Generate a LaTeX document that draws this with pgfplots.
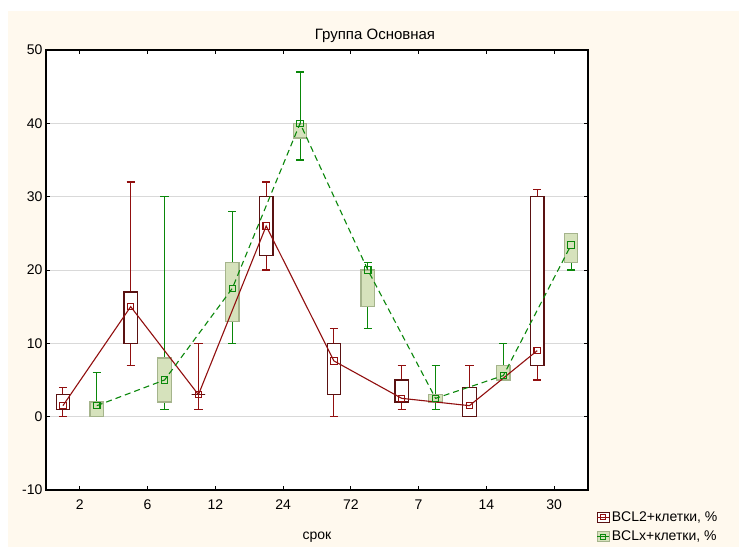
\documentclass[border=0pt]{standalone}
\usepackage{fontspec}
\setmainfont{Liberation Sans}
\usepackage{pgfplots}
\usepackage{pgfplotstable}
\pgfplotsset{compat=1.18}
\usepgfplotslibrary{statistics}

\definecolor{cream}{RGB}{255,249,238}
\definecolor{linered}{RGB}{145,15,15}
\definecolor{boxred}{RGB}{90,18,18}
\definecolor{linegreen}{RGB}{10,135,10}
\definecolor{greenfill}{RGB}{214,226,188}
\definecolor{greendraw}{RGB}{165,180,140}

% medians (connected lines)
\pgfplotstableread{
pos med
0 1.5
1 15
2 3
3 26
4 7.6
5 2.5
6 1.5
7 9
}\redtbl

\pgfplotstableread{
pos med
0 1.5
1 5
2 17.5
3 40
4 20
5 2.5
6 5.6
7 23.4
}\grntbl

\newcommand{\fsz}{\fontsize{14bp}{16bp}\selectfont}
% #1 position, #2 lower whisker, #3 lower quartile, #4 median, #5 upper quartile, #6 upper whisker
\newcommand{\redbox}[6]{%
  \addplot[forget plot, draw=linered, line width=1.1bp,
    boxplot prepared={draw direction=y, draw position=#1-0.25, lower whisker=#2, lower quartile=#3,
      median=#4, upper quartile=#5, upper whisker=#6,
      box extend=0.2, whisker extend=0.12,
      every box/.style={draw=boxred, fill=white, line width=1.3bp},
      draw/median/.code={}}] coordinates {};}
\newcommand{\greenbox}[6]{%
  \addplot[forget plot, draw=linegreen, line width=1.1bp,
    boxplot prepared={draw direction=y, draw position=#1+0.25, lower whisker=#2, lower quartile=#3,
      median=#4, upper quartile=#5, upper whisker=#6,
      box extend=0.2, whisker extend=0.12,
      every box/.style={draw=greendraw, fill=greenfill, line width=1.3bp},
      draw/median/.code={}}] coordinates {};}

\begin{document}
\begin{tikzpicture}
\fill[white] (0,0) rectangle (739bp,547bp);
\fill[cream] (8bp,0) rectangle (739bp,536bp);
\begin{axis}[
  at={(46bp,57bp)}, anchor=south west,
  scale only axis, width=542bp, height=440bp,
  xmin=-0.5, xmax=7.5, ymin=-10, ymax=50,
  xtick={0,1,2,3,4,5,6,7},
  xticklabels={2,6,12,24,72,7,14,30},
  ytick={-10,0,10,20,30,40,50},
  tick align=inside, major tick length=4bp,
  tick style={black, line width=0.8bp},
  ymajorgrids, grid style={black!15, line width=1bp},
  axis line style={black, line width=1.2bp},
  axis background/.style={fill=white},
  /pgf/number format/assume math mode=true,
  tick label style={font=\fsz},
  xticklabel style={yshift=-6bp},
  title={Группа Основная},
  title style={at={(axis description cs:0.607,1)}, yshift=-2bp, font=\fontsize{15bp}{17bp}\selectfont},
  xlabel={срок},
  xlabel style={at={(axis description cs:0.5,0)}, anchor=center, yshift=-47bp, font=\fsz},
  legend style={at={(axis description cs:1.0105,-0.04)}, anchor=north west,
    draw=none, fill=none, font=\fsz, row sep=4bp},
  legend cell align=left,
]
\redbox{0}{0}{1}{1.5}{3}{4}
\redbox{1}{7}{10}{15}{17}{32}
\redbox{2}{1}{3}{3}{3}{10}
\redbox{3}{20}{22}{26}{30}{32}
\redbox{4}{0}{3}{7.6}{10}{12}
\redbox{5}{1}{2}{2.5}{5}{7}
\redbox{6}{0}{0}{1.5}{4}{7}
\redbox{7}{5}{7}{9}{30}{31}
\greenbox{0}{0}{0}{1.5}{2}{6}
\greenbox{1}{1}{2}{5}{8}{30}
\greenbox{2}{10}{13}{17.5}{21}{28}
\greenbox{3}{35}{38}{40}{40}{47}
\greenbox{4}{12}{15}{20}{20}{21}
\greenbox{5}{1}{2}{2.5}{3}{7}
\greenbox{6}{5}{5}{5.6}{7}{10}
\greenbox{7}{20}{21}{23.4}{25}{25}
\addplot[linered, line width=1.1bp, mark=square, mark size=3.2bp,
  legend image code/.code={
    \draw[draw=boxred, fill=white, line width=1bp, solid] (0bp,-5bp) rectangle (12bp,5bp);
    \draw[linered, line width=1bp, solid] (0bp,0bp) -- (12bp,0bp);
    \draw[linered, line width=1bp, solid] (3.5bp,-2.5bp) rectangle (8.5bp,2.5bp);
  }] table[x expr=\thisrow{pos}-0.25, y=med] {\redtbl};
\addlegendentry{BCL2+клетки, \%}
\addplot[linegreen, line width=1.1bp, dash pattern=on 6bp off 4bp,
  mark=square, mark size=3.2bp, mark options={solid},
  legend image code/.code={
    \draw[draw=greendraw, fill=greenfill, line width=1bp, solid] (0bp,-5bp) rectangle (12bp,5bp);
    \draw[linegreen, line width=1bp, solid] (0bp,0bp) -- (12bp,0bp);
    \draw[linegreen, line width=1bp, solid] (3.5bp,-2.5bp) rectangle (8.5bp,2.5bp);
  }] table[x expr=\thisrow{pos}+0.25, y=med] {\grntbl};
\addlegendentry{BCLx+клетки, \%}
\end{axis}
\pgfresetboundingbox
\useasboundingbox (0,0) rectangle (739bp,547bp);
\end{tikzpicture}
\end{document}
